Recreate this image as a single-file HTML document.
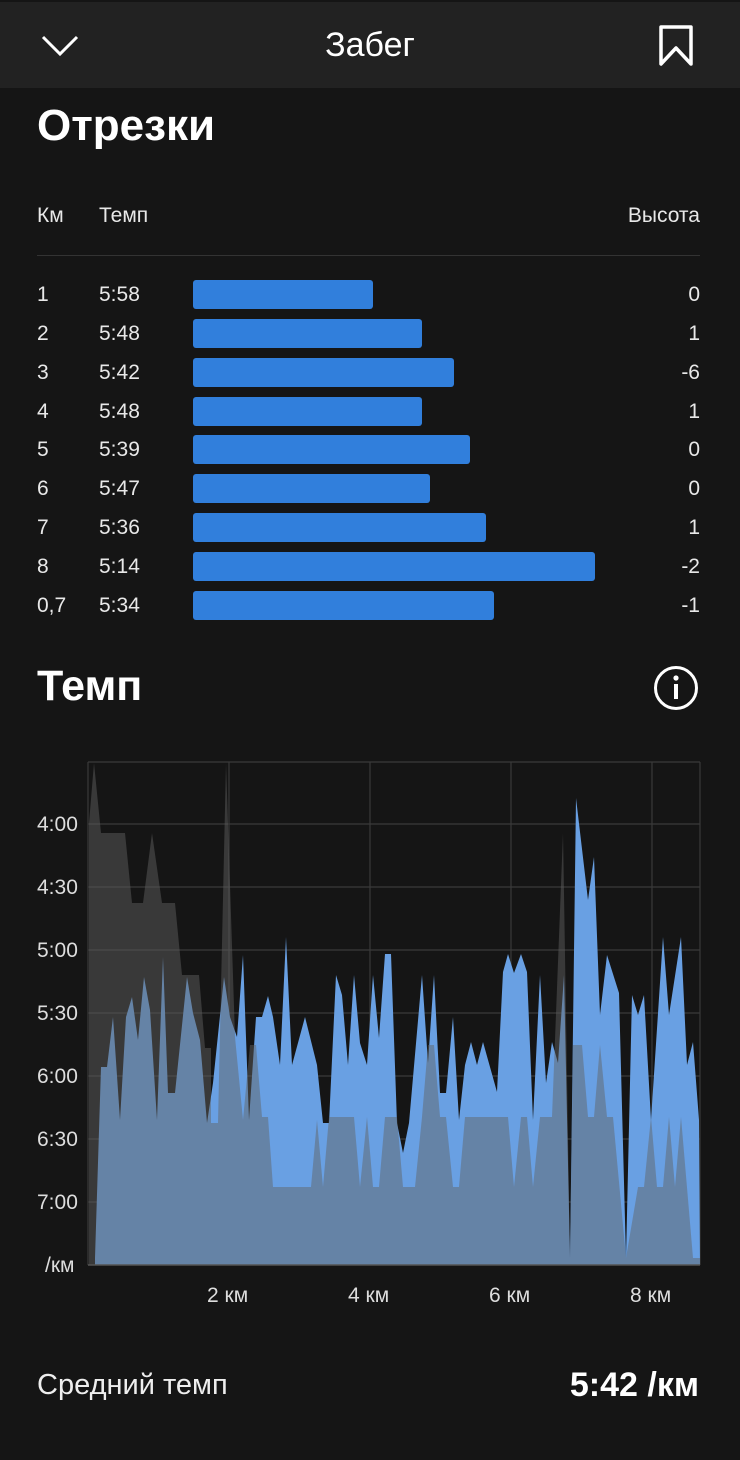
<!DOCTYPE html>
<html><head><meta charset="utf-8"><style>
body{margin:0;width:740px;height:1460px;background:#151515;font-family:"Liberation Sans","Noto Sans CJK SC",sans-serif;color:#fff;position:relative;overflow:hidden}
.a{position:absolute;white-space:nowrap}
.hdr{position:absolute;left:0;top:2px;width:740px;height:86px;background:#222}
.row{font-size:21px;color:#e8e8e8}
.bar{position:absolute;left:193px;height:29px;background:#317fdc;border-radius:3px}
.yl{font-size:21px;color:#ddd;left:37px}
.xl{font-size:21px;color:#ddd}
</style></head><body>
<div class="hdr"></div>
<svg class="a" style="left:40px;top:32px" width="42" height="28"><polyline points="3,5 20,22 37,5" fill="none" stroke="#fff" stroke-width="3"/></svg>
<div class="a" style="left:0;width:740px;text-align:center;top:26px;font-size:34px">Забег</div>
<svg class="a" style="left:656px;top:24px" width="42" height="44"><path d="M5,3 H35 V40 L20,24 L5,40 Z" fill="none" stroke="#fff" stroke-width="3.5" stroke-linejoin="round"/></svg>
<div class="a" style="left:37px;top:101px;font-size:44px;font-weight:bold">Отрезки</div>
<div class="a row" style="left:37px;top:204px">Км</div>
<div class="a row" style="left:99px;top:204px">Темп</div>
<div class="a row" style="right:40px;top:204px">Высота</div>
<div class="a" style="left:37px;top:255px;width:663px;height:1px;background:#333"></div>

<div class="a row" style="left:37px;top:283px">1</div><div class="a row" style="left:99px;top:283px">5:58</div><div class="bar" style="top:280px;width:180px"></div><div class="a row" style="right:40px;top:283px">0</div>
<div class="a row" style="left:37px;top:322px">2</div><div class="a row" style="left:99px;top:322px">5:48</div><div class="bar" style="top:319px;width:229px"></div><div class="a row" style="right:40px;top:322px">1</div>
<div class="a row" style="left:37px;top:361px">3</div><div class="a row" style="left:99px;top:361px">5:42</div><div class="bar" style="top:358px;width:261px"></div><div class="a row" style="right:40px;top:361px">-6</div>
<div class="a row" style="left:37px;top:400px">4</div><div class="a row" style="left:99px;top:400px">5:48</div><div class="bar" style="top:397px;width:229px"></div><div class="a row" style="right:40px;top:400px">1</div>
<div class="a row" style="left:37px;top:438px">5</div><div class="a row" style="left:99px;top:438px">5:39</div><div class="bar" style="top:435px;width:277px"></div><div class="a row" style="right:40px;top:438px">0</div>
<div class="a row" style="left:37px;top:477px">6</div><div class="a row" style="left:99px;top:477px">5:47</div><div class="bar" style="top:474px;width:237px"></div><div class="a row" style="right:40px;top:477px">0</div>
<div class="a row" style="left:37px;top:516px">7</div><div class="a row" style="left:99px;top:516px">5:36</div><div class="bar" style="top:513px;width:293px"></div><div class="a row" style="right:40px;top:516px">1</div>
<div class="a row" style="left:37px;top:555px">8</div><div class="a row" style="left:99px;top:555px">5:14</div><div class="bar" style="top:552px;width:402px"></div><div class="a row" style="right:40px;top:555px">-2</div>
<div class="a row" style="left:37px;top:594px">0,7</div><div class="a row" style="left:99px;top:594px">5:34</div><div class="bar" style="top:591px;width:301px"></div><div class="a row" style="right:40px;top:594px">-1</div>

<div class="a" style="left:37px;top:662px;font-size:43px;font-weight:bold">Темп</div>
<svg class="a" style="left:653px;top:665px" width="48" height="48"><circle cx="23" cy="23" r="20.5" fill="none" stroke="#fff" stroke-width="3"/><circle cx="23" cy="13" r="2.6" fill="#fff"/><rect x="21" y="19" width="4" height="15" fill="#fff"/></svg>

<svg class="a" style="left:0;top:0" width="740" height="1460">
<g stroke="#3a3a3a" stroke-width="1.2">
<line x1="88" y1="762" x2="700" y2="762"/>
<line x1="88" y1="824" x2="700" y2="824"/><line x1="88" y1="887" x2="700" y2="887"/><line x1="88" y1="950" x2="700" y2="950"/><line x1="88" y1="1013" x2="700" y2="1013"/><line x1="88" y1="1076" x2="700" y2="1076"/><line x1="88" y1="1139" x2="700" y2="1139"/><line x1="88" y1="1202" x2="700" y2="1202"/>
<line x1="88" y1="762" x2="88" y2="1265"/><line x1="229" y1="762" x2="229" y2="1265"/><line x1="370" y1="762" x2="370" y2="1265"/><line x1="511" y1="762" x2="511" y2="1265"/><line x1="652" y1="762" x2="652" y2="1265"/><line x1="700" y1="762" x2="700" y2="1265"/>
</g>
<polygon fill="#69a0e3" points="95,1265 95,1258 101,1067 107,1067 113,1017 120,1120 126,1017 132,997 138,1040 144,977 150,1010 157,1120 163,957 168,1093 175,1093 187,977 193,1013 200,1040 207,1123 213,1083 224,977 230,1017 237,1037 243,955 249,1120 256,1017 262,1017 268,996 273,1017 280,1065 286,937 292,1065 305,1017 317,1065 323,1123 329,1123 336,975 342,995 348,1065 354,975 360,1043 367,1065 373,975 379,1038 385,954 391,954 397,1123 403,1153 409,1123 422,975 428,1063 434,975 440,1093 446,1093 453,1017 459,1120 465,1065 471,1042 477,1065 483,1042 497,1092 503,972 508,954 514,973 521,954 527,972 533,1120 540,975 546,1083 552,1042 558,1063 564,975 570,1258 576,798 588,900 594,857 600,1015 607,955 619,993 626,1258 632,995 638,1015 644,995 651,1120 663,937 669,1015 681,937 687,1065 693,1042 699,1120 700,1265"/>
<polygon fill="rgb(98,98,98)" fill-opacity="0.47" points="89,1265 89,823 94,763 101,833 125,833 132,903 143,903 152,833 162,903 175,903 182,975 199,975 205,1048 211,1048 211,1123 218,1123 226,763 235,1037 243,1120 250,1045 256,1045 262,1117 268,1117 273,1187 311,1187 317,1120 323,1187 329,1117 354,1117 360,1187 367,1117 373,1187 379,1187 385,1117 397,1117 403,1187 415,1187 422,1117 428,1045 434,1045 440,1117 446,1117 453,1187 459,1187 465,1117 508,1117 514,1187 521,1117 527,1117 533,1187 540,1117 552,1117 563,833 570,1258 573,1045 582,1045 588,1117 594,1117 600,1045 607,1117 613,1117 626,1258 638,1187 644,1187 651,1117 657,1187 663,1187 669,1117 675,1187 681,1117 693,1258 700,1258 700,1265"/>
<line x1="88" y1="1265" x2="700" y2="1265" stroke="#555" stroke-width="1.5"/>
</svg>
<div class="a yl" style="top:813px">4:00</div>
<div class="a yl" style="top:876px">4:30</div>
<div class="a yl" style="top:939px">5:00</div>
<div class="a yl" style="top:1002px">5:30</div>
<div class="a yl" style="top:1065px">6:00</div>
<div class="a yl" style="top:1128px">6:30</div>
<div class="a yl" style="top:1191px">7:00</div>
<div class="a yl" style="top:1254px;left:45px">/км</div>
<div class="a xl" style="left:207px;top:1284px">2 км</div>
<div class="a xl" style="left:348px;top:1284px">4 км</div>
<div class="a xl" style="left:489px;top:1284px">6 км</div>
<div class="a xl" style="left:630px;top:1284px">8 км</div>
<div class="a" style="left:37px;top:1369px;font-size:29px;color:#eee">Средний темп</div>
<div class="a" style="right:41px;top:1366px;font-size:34px;font-weight:bold">5:42 /км</div>
</body></html>
